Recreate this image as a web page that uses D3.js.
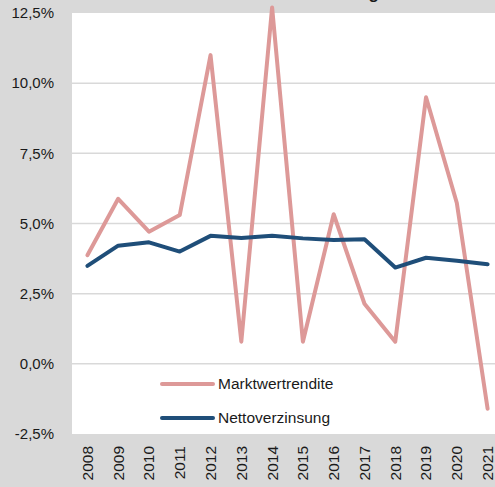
<!DOCTYPE html>
<html>
<head>
<meta charset="utf-8">
<script src="https://cdn.jsdelivr.net/npm/d3@7"></script>
<style>
  body { margin: 0; background: #d9d9d9; overflow: hidden; }
  text { font-family: 'Liberation Sans', Arial, sans-serif; fill: #1a1a1a; }
</style>
</head>
<body>
<div id="chart"></div>
<script>
var width = 495;
var height = 487;

var years = ['2008', '2009', '2010', '2011', '2012', '2013', '2014', '2015', '2016', '2017', '2018', '2019', '2020', '2021'];
var marktwertrendite = [3.87, 5.88, 4.71, 5.30, 11.0, 0.79, 12.7, 0.79, 5.33, 2.14, 0.79, 9.5, 5.73, -1.6];
var nettoverzinsung = [3.49, 4.21, 4.33, 4.0, 4.56, 4.48, 4.56, 4.47, 4.41, 4.44, 3.43, 3.78, 3.67, 3.55];
var yTicks = [-2.5, 0, 2.5, 5, 7.5, 10, 12.5];
var seriesNames = ['Marktwertrendite', 'Nettoverzinsung'];
var seriesColors = ['#dd9998', '#1f4e79'];

var plot = { left: 72, top: 13, right: 503, bottom: 434 };

var svg = d3.select('#chart').append('svg')
  .attr('width', width)
  .attr('height', height);

svg.append('rect')
  .attr('width', width)
  .attr('height', height)
  .attr('fill', '#d9d9d9');

// title, mostly cut off at the top
svg.append('text')
  .attr('x', 379)
  .attr('y', -1)
  .attr('text-anchor', 'end')
  .style('font-size', '17px')
  .style('font-weight', 'bold')
  .text('Marktwertrendite und Nettoverzinsung');

svg.append('rect')
  .attr('x', plot.left)
  .attr('y', plot.top)
  .attr('width', plot.right - plot.left)
  .attr('height', plot.bottom - plot.top)
  .attr('fill', '#ffffff');

var x = d3.scaleBand()
  .domain(years)
  .range([plot.left, plot.right]);

var y = d3.scaleLinear()
  .domain([-2.5, 12.5])
  .range([plot.bottom, plot.top]);

var fmt = function(v) {
  return d3.format('.1f')(v).replace('.', ',').replace('−', '-') + '%';
};

// gridlines
svg.append('g')
  .selectAll('line')
  .data(yTicks.filter(function(d) { return d > -2.5 && d < 12.5; }))
  .enter().append('line')
  .attr('x1', plot.left)
  .attr('x2', plot.right)
  .attr('y1', function(d) { return y(d); })
  .attr('y2', function(d) { return y(d); })
  .attr('stroke', '#d9d9d9')
  .attr('stroke-width', 1.5);

// y axis labels
var yAxis = d3.axisLeft(y).tickValues(yTicks).tickFormat(fmt).tickSize(0).tickPadding(0);
var yg = svg.append('g')
  .attr('transform', 'translate(54,0)')
  .call(yAxis);
yg.select('.domain').remove();
yg.selectAll('text')
  .style('font-size', '15px')
  .attr('fill', '#1a1a1a');

// x axis labels (rotated)
var xAxis = d3.axisBottom(x).tickSize(0).tickPadding(0);
var xg = svg.append('g')
  .attr('transform', 'translate(0,446)')
  .call(xAxis);
xg.select('.domain').remove();
xg.selectAll('text')
  .style('font-size', '15.5px')
  .attr('fill', '#1a1a1a')
  .attr('text-anchor', 'end')
  .attr('transform', 'rotate(-90)')
  .attr('x', 0)
  .attr('y', 0)
  .attr('dx', 0)
  .attr('dy', '0.35em');

var line = d3.line()
  .x(function(d, i) { return x(years[i]) + x.bandwidth() / 2; })
  .y(function(d) { return y(d); });

[marktwertrendite, nettoverzinsung].forEach(function(values, i) {
  svg.append('path')
    .datum(values)
    .attr('fill', 'none')
    .attr('stroke', seriesColors[i])
    .attr('stroke-width', 4)
    .attr('stroke-linejoin', 'round')
    .attr('stroke-linecap', 'round')
    .attr('d', line);
});

// legend
var legend = svg.append('g')
  .selectAll('g')
  .data(seriesNames)
  .enter().append('g')
  .attr('transform', function(d, i) { return 'translate(162,' + (384 + i * 34) + ')'; });

legend.append('line')
  .attr('x1', 0)
  .attr('x2', 51)
  .attr('stroke', function(d, i) { return seriesColors[i]; })
  .attr('stroke-width', 4)
  .attr('stroke-linecap', 'round');

legend.append('text')
  .attr('x', 56)
  .attr('dy', '0.35em')
  .style('font-size', '15.5px')
  .text(function(d) { return d; });
</script>
</body>
</html>
